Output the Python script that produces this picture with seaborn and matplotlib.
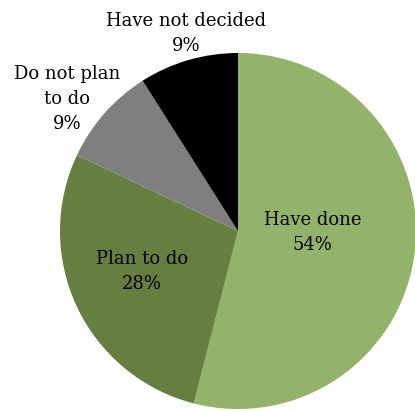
import matplotlib
matplotlib.use("Agg")
import matplotlib.pyplot as plt
import seaborn as sns

categories = ["Have done", "Plan to do", "Do not plan\nto do", "Have not decided"]
shares = [54, 28, 9, 9]
slice_colors = ["#94B36A", "#667E3F", "#7F7F7F", "#000000"]

# label anchor points (data units, pie radius = 1)
label_pos = [(0.42, -0.01), (-0.54, -0.23), (-0.96, 0.74), (-0.29, 1.11)]
label_color = "#000000"

sns.set_style("white")
plt.rcParams["font.family"] = ["DejaVu Serif"]

fig = plt.figure(figsize=(4.15, 4.11), dpi=100)
ax = fig.add_axes([0, 0, 1, 1])

ax.pie(shares, colors=slice_colors, startangle=90, counterclock=False,
       radius=1, wedgeprops=dict(linewidth=0))

for cat, val, (x, y) in zip(categories, shares, label_pos):
    ax.text(x, y, f"{cat}\n{val}%", ha="center", va="center",
            fontsize=13, linespacing=1.5, color=label_color)

# center at pixel (238, 231), radius 178 px
ax.set_xlim(-238 / 178, (415 - 238) / 178)
ax.set_ylim(-(411 - 231) / 178, 231 / 178)
ax.set_aspect("auto")
ax.axis("off")

fig.savefig("out.png", dpi=100)
